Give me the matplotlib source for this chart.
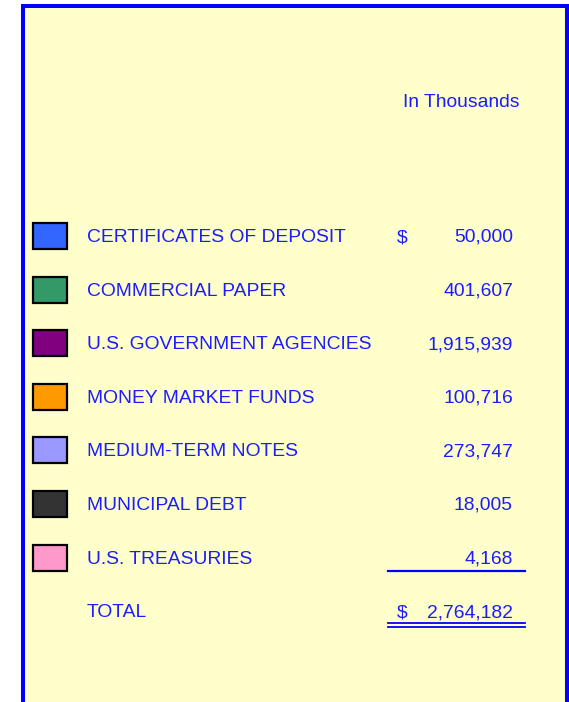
import matplotlib
matplotlib.use("Agg")
import matplotlib.pyplot as plt
from matplotlib.patches import Rectangle

categories = ["CERTIFICATES OF DEPOSIT", "COMMERCIAL PAPER", "U.S. GOVERNMENT AGENCIES",
              "MONEY MARKET FUNDS", "MEDIUM-TERM NOTES", "MUNICIPAL DEBT", "U.S. TREASURIES"]
values = [50000, 401607, 1915939, 100716, 273747, 18005, 4168]
colors = ["#3366FF", "#339966", "#800080", "#FF9900", "#9999FF", "#333333", "#FF99CC"]
total_label = "TOTAL"
total_value = 2764182
unit_label = "In Thousands"

W, H = 569, 702
fig = plt.figure(figsize=(W / 100, H / 100), dpi=100)
fig.patch.set_facecolor("white")
ax = fig.add_axes([0, 0, 1, 1])
ax.set_xlim(0, W)
ax.set_ylim(H, 0)
ax.axis("off")

txt = "#1C1CFF"
fs = 13.9
font = "Liberation Sans"
dyt = 1.5

# panel background + border (bottom edge clipped)
ax.add_patch(Rectangle((23, 6), 544, 720, facecolor="#FFFFCC", edgecolor="#0000FF", lw=2.9, clip_on=True))

ax.text(520, 101 + dyt, unit_label, color=txt, fontsize=fs, family=font, ha="right", va="center")

y0, dy = 236, 53.6
for i, (c, v, col) in enumerate(zip(categories, values, colors)):
    y = y0 + i * dy
    ax.add_patch(Rectangle((33, y - 13), 34, 26, facecolor=col, edgecolor="black", lw=1.6))
    ax.text(87, y + dyt, c, color=txt, fontsize=fs, family=font, ha="left", va="center")
    ax.text(513, y + dyt, f"{v:,}", color=txt, fontsize=fs, family=font, ha="right", va="center")
    if i == 0:
        ax.text(397, y + dyt, "$", color=txt, fontsize=fs, family=font, ha="left", va="center")

yt = y0 + len(categories) * dy
ax.text(87, yt + dyt, total_label, color=txt, fontsize=fs, family=font, ha="left", va="center")
ax.text(513, yt + dyt, f"{total_value:,}", color=txt, fontsize=fs, family=font, ha="right", va="center")
ax.text(397, yt + dyt, "$", color=txt, fontsize=fs, family=font, ha="left", va="center")

ax.plot([388, 525], [571, 571], color="#0000FF", lw=1.6)
ax.plot([388, 525], [622.5, 622.5], color="#0000FF", lw=1.3)
ax.plot([388, 525], [626.5, 626.5], color="#0000FF", lw=1.3)

fig.savefig("out.png", dpi=100, facecolor=fig.get_facecolor())
